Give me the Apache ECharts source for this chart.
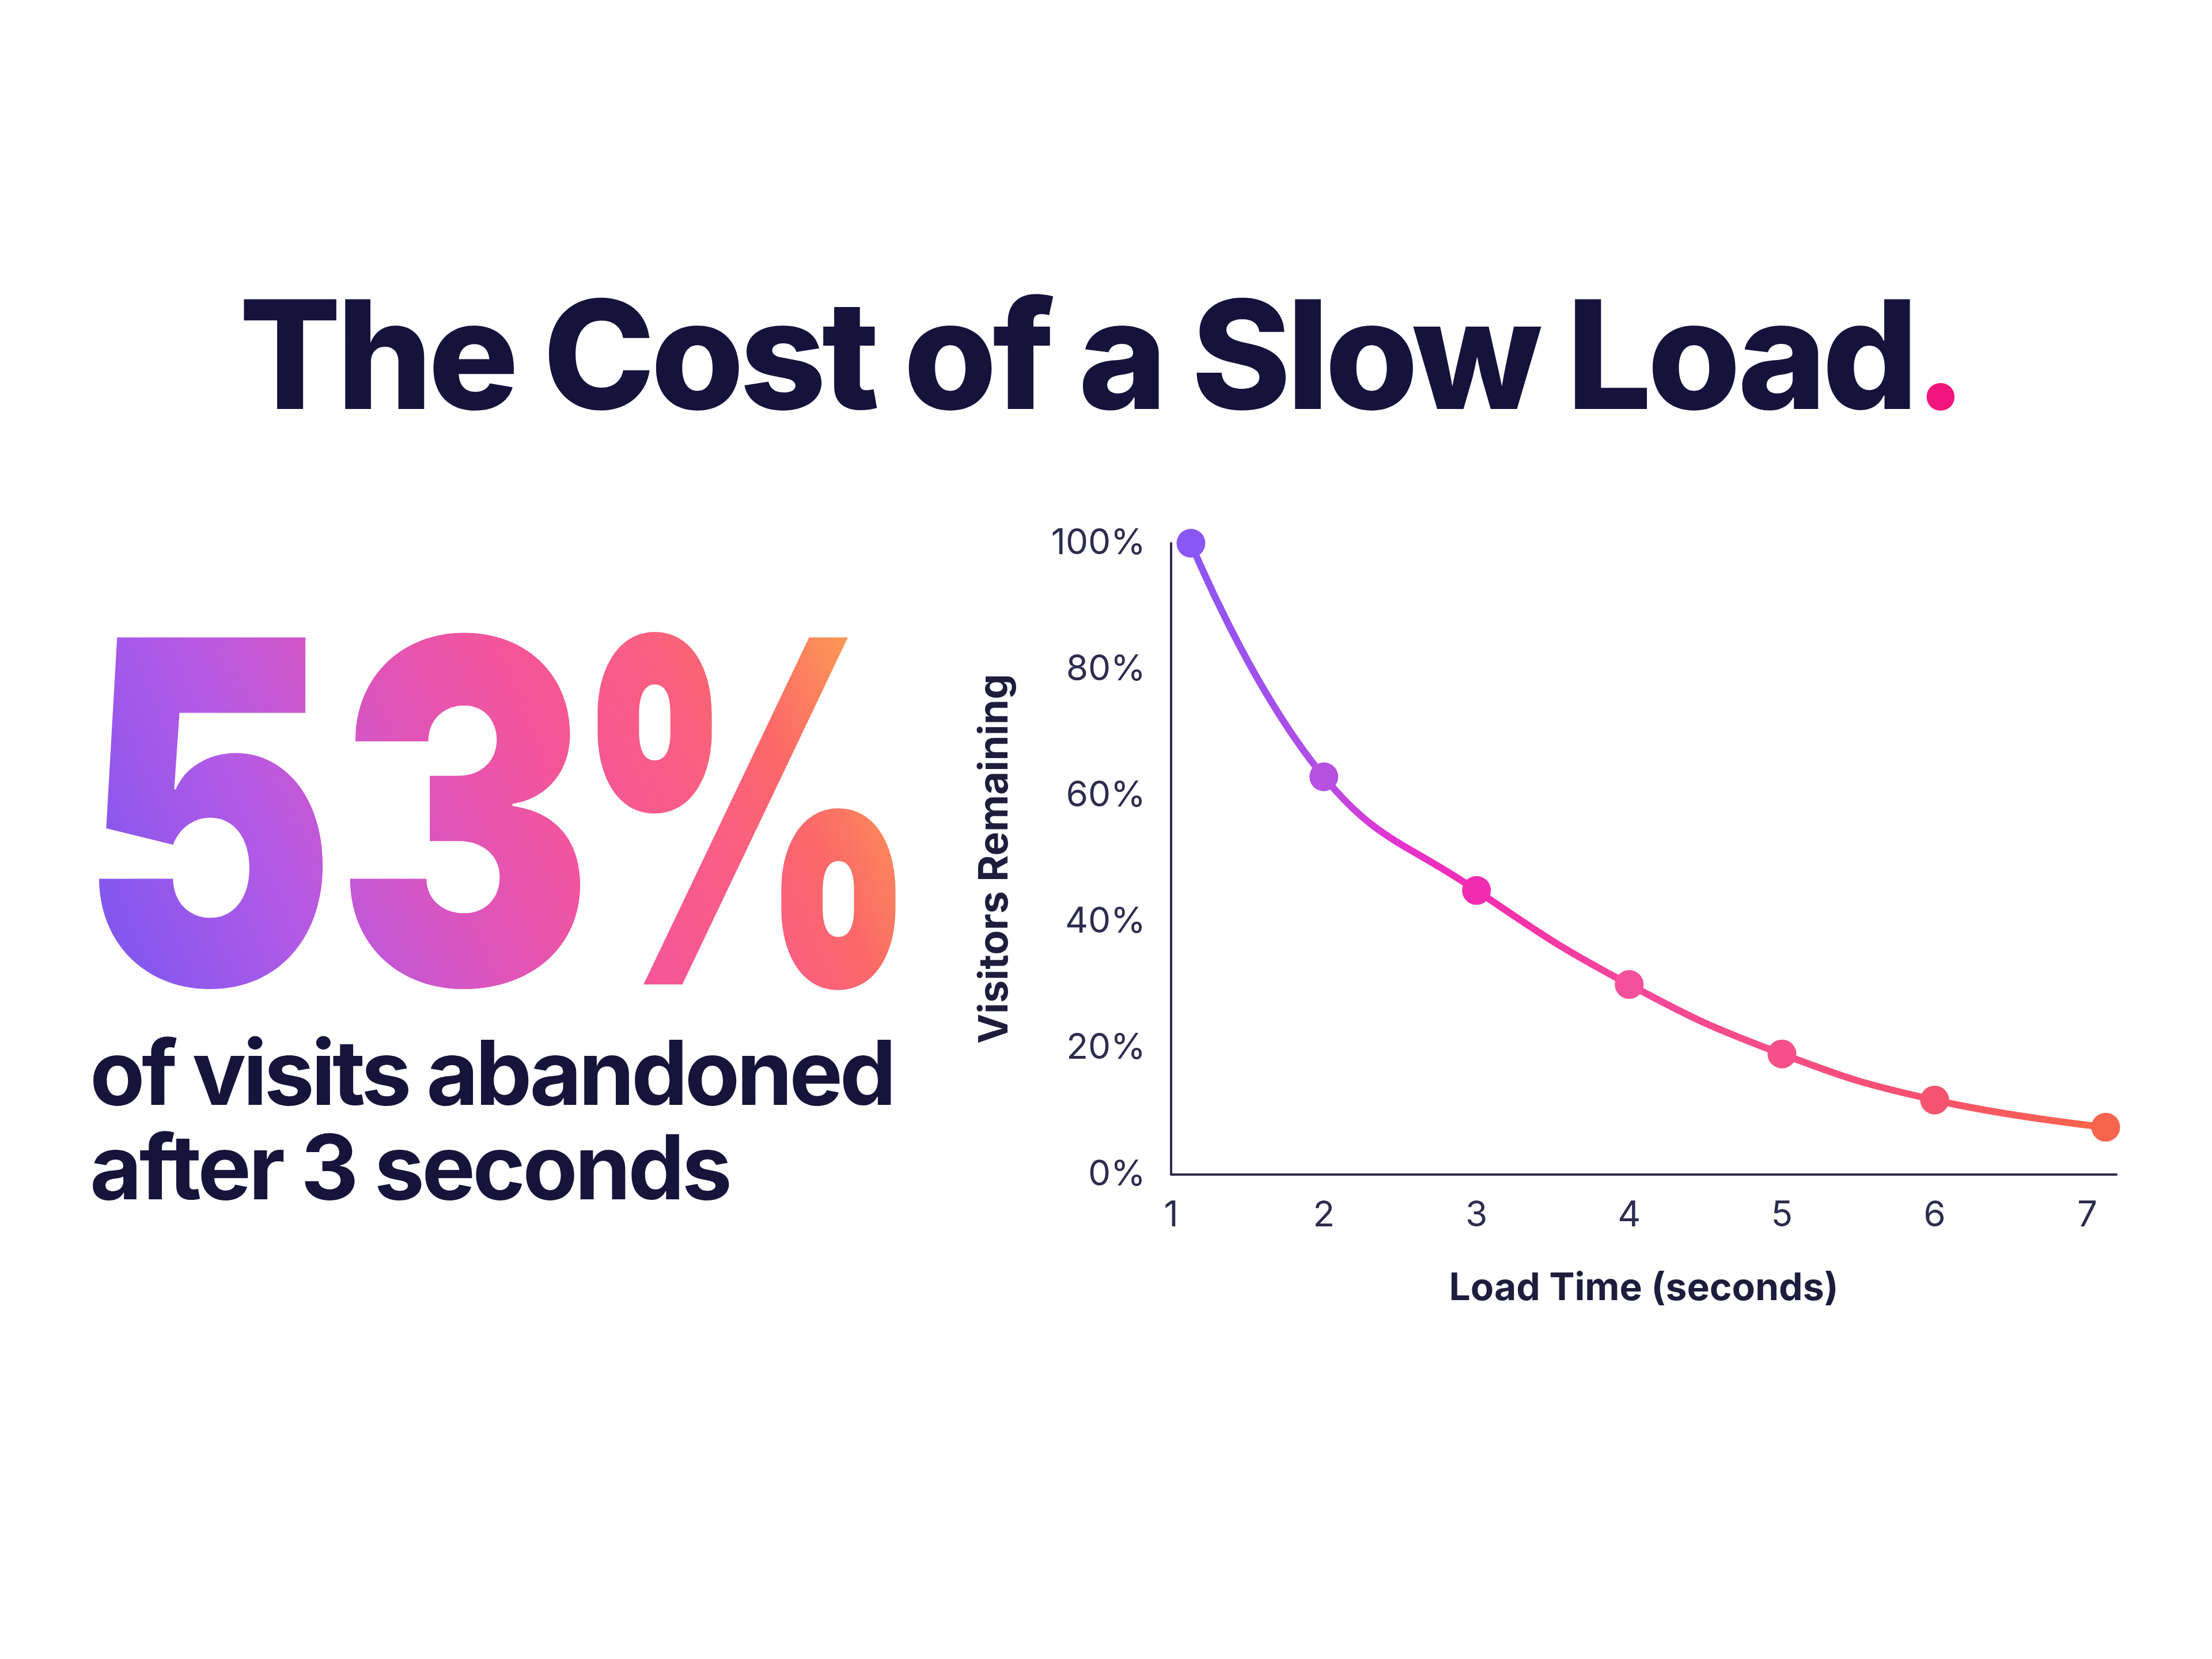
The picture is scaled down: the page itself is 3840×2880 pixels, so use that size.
<!DOCTYPE html>
<html>
<head>
<meta charset="utf-8">
<title>The Cost of a Slow Load</title>
<script src="https://cdn.jsdelivr.net/npm/echarts@6/dist/echarts.min.js"></script>
<style>
  html, body { margin: 0; padding: 0; background: #ffffff; }
  #wrap { position: relative; width: 3840px; height: 2880px; }
  #chart { position: absolute; left: 0; top: 0; width: 3840px; height: 2880px; }
  #text { position: absolute; left: 0; top: 0; pointer-events: none; }
  #text text { font-family: Inter, "Noto Sans", sans-serif; }
</style>
</head>
<body>
<div id="wrap">
  <div id="chart"></div>
  <svg id="text" width="3840" height="2880" xmlns="http://www.w3.org/2000/svg">
    <defs>
      <linearGradient id="bigGrad" gradientUnits="userSpaceOnUse" x1="162" y1="1709" x2="1562" y2="1107">
        <stop offset="0" stop-color="#7856f0"/>
        <stop offset="0.24" stop-color="#b35ae6"/>
        <stop offset="0.44" stop-color="#e054b8"/>
        <stop offset="0.58" stop-color="#f4559a"/>
        <stop offset="0.72" stop-color="#fa5e84"/>
        <stop offset="0.82" stop-color="#fb6868"/>
        <stop offset="0.95" stop-color="#fd9a55"/>
        <stop offset="1" stop-color="#fda452"/>
      </linearGradient>
    </defs>
    <text id="title" x="415" y="710" font-size="262" font-weight="800" fill="#15133b"
          textLength="3000" lengthAdjust="spacing"><tspan id="titleMain"></tspan><tspan id="titleDot" fill="#f2157d"></tspan></text>
    <text id="bigNum" x="138" y="1709" font-size="828" font-weight="900" fill="url(#bigGrad)"
          textLength="892" lengthAdjust="spacingAndGlyphs"></text>
    <text id="bigPct" x="996" y="1709" font-size="828" font-weight="900" fill="url(#bigGrad)"
          textLength="600" lengthAdjust="spacingAndGlyphs"></text>
    <text id="cap1" x="156" y="1918" font-size="156" font-weight="700" fill="#16143a"
          textLength="1400" lengthAdjust="spacing"></text>
    <text id="cap2" x="156" y="2082" font-size="156" font-weight="700" fill="#16143a"
          textLength="1115" lengthAdjust="spacing"></text>
  </svg>
</div>
<script>
// headline texts
var titleText = 'The Cost of a Slow Load';
var headlineValue = '53';
var headlineUnit = '%';
var captionLines = ['of visits abandoned', 'after 3 seconds'];

// chart data
var loadTimes = [1.13, 2, 3, 4, 5, 6, 7.12];
var visitorsRemaining = [100, 63, 45, 30.1, 19.1, 11.8, 7.5];
var xTicks = [1, 2, 3, 4, 5, 6, 7];
var yTicks = [0, 20, 40, 60, 80, 100];

var pointColors = ['#8a56f4', '#b651e2', '#f22cb2', '#f5509b', '#f5508a', '#f4546f', '#f7654f'];

document.getElementById('titleMain').textContent = titleText;
document.getElementById('titleDot').textContent = '.';
document.getElementById('bigNum').textContent = headlineValue;
document.getElementById('bigPct').textContent = headlineUnit;
document.getElementById('cap1').textContent = captionLines[0];
document.getElementById('cap2').textContent = captionLines[1];

var font = 'Inter, "Noto Sans", sans-serif';
var ink = '#2b2a4a';

var chart = echarts.init(document.getElementById('chart'), null, {
    renderer: 'canvas',
    width: 3840,
    height: 2880
});

var nameStyle = {
    fontFamily: font,
    fontWeight: 700,
    color: '#1e1d3d'
};

var option = {
    backgroundColor: 'transparent',
    animation: false,
    grid: {
        left: 2033,
        right: 166,
        top: 943,
        bottom: 841
    },
    xAxis: {
        type: 'value',
        min: xTicks[0],
        max: 7.19,
        interval: 1,
        name: 'Load Time (seconds)',
        nameLocation: 'middle',
        nameGap: 165,
        nameTextStyle: Object.assign({ fontSize: 66 }, nameStyle),
        axisLine: { lineStyle: { color: ink, width: 4 } },
        axisTick: { show: false },
        splitLine: { show: false },
        axisLabel: {
            margin: 40,
            fontFamily: font,
            fontSize: 62,
            color: '#2e2d4f',
            formatter: function(v) {
                return xTicks.indexOf(v) >= 0 ? String(v) : '';
            }
        }
    },
    yAxis: {
        type: 'value',
        min: yTicks[0],
        max: yTicks[yTicks.length - 1],
        interval: yTicks[1] - yTicks[0],
        name: 'Visitors Remaining',
        nameLocation: 'middle',
        nameGap: 270,
        nameTextStyle: Object.assign({ fontSize: 70 }, nameStyle),
        axisLine: { show: true, lineStyle: { color: ink, width: 4 } },
        axisTick: { show: false },
        splitLine: { show: false },
        axisLabel: {
            margin: 44,
            fontFamily: font,
            fontSize: 62,
            color: '#2e2d4f',
            formatter: '{value}%'
        }
    },
    series: [{
        type: 'line',
        data: loadTimes.map(function(t, i) {
            return [t, visitorsRemaining[i]];
        }),
        smooth: 0.45,
        symbol: 'circle',
        symbolSize: 50,
        lineStyle: {
            width: 12,
            cap: 'round',
            color: {
                type: 'linear',
                x: 0, y: 0, x2: 1, y2: 0,
                colorStops: [
                    { offset: 0, color: '#8a55f5' },
                    { offset: 0.147, color: '#b54de4' },
                    { offset: 0.22, color: '#e234d2' },
                    { offset: 0.308, color: '#f42bb2' },
                    { offset: 0.476, color: '#f6479a' },
                    { offset: 0.643, color: '#f64d85' },
                    { offset: 0.813, color: '#f7526c' },
                    { offset: 1, color: '#fa6648' }
                ]
            }
        },
        itemStyle: {
            color: function(p) {
                return pointColors[p.dataIndex];
            }
        },
        z: 3
    }]
};

chart.setOption(option);
</script>
</body>
</html>
